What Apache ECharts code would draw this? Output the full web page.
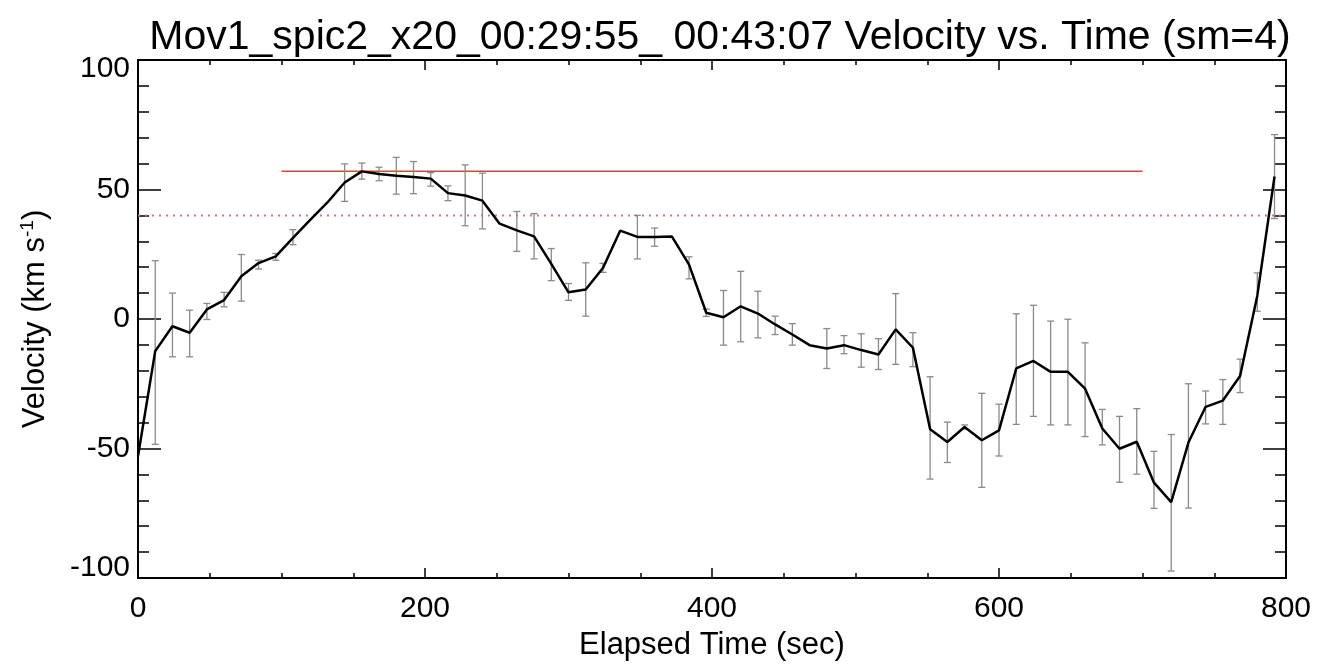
<!DOCTYPE html>
<html>
<head>
<meta charset="utf-8">
<script src="https://cdn.jsdelivr.net/npm/echarts@6/dist/echarts.min.js"></script>
<style>
html,body{margin:0;padding:0;background:#fff;}
#c{width:1318px;height:666px;}
</style>
</head>
<body>
<div id="c"></div>
<script>
// Elapsed time (sec) of each sample
const times = [0,12,24,36,48,60,72,84,96,108,120,132,144,156,168,180,192,204,216,228,240,252,264,276,288,300,312,324,336,348,360,372,384,396,408,420,432,444,456,468,480,492,504,516,528,540,552,564,576,588,600,612,624,636,648,660,672,684,696,708,720,732,744,756,768,780,792];
// Velocity (km/s)
const velocity = [-53,-12.4,-2.8,-5.3,3.7,7.3,16.5,21.6,24.2,31.3,38.3,45,52.7,57,56,55.3,54.8,54.2,48.6,47.7,45.7,36.8,34.2,31.9,21.3,10.3,11.4,19.7,34.1,31.7,31.7,31.9,21,2.4,0.7,4.9,2.1,-2.1,-6,-10.1,-11.4,-10.1,-12,-13.7,-4,-11.1,-42.6,-47.5,-41.7,-46.8,-43,-19.1,-16.2,-20.4,-20.4,-26.9,-42.3,-50.1,-47.4,-63.2,-70.7,-47.7,-33.9,-31.5,-22,9,55];
// Error bar lower / upper ends (null = no bar drawn)
const errLow = [null,-48.4,-14.6,-14.6,-0.2,4.7,6.9,19.3,22.7,28.7,null,null,45.4,54,53.4,48.2,48.4,51.3,45.7,36,34.8,null,26.1,23.2,14.8,7.2,1.1,18,null,23.2,28.1,null,15.5,1,-10.1,-8.8,-7.3,-6,-10.1,null,-19.1,-13.4,-18.6,-19.5,-17.5,-18.4,-61.8,-55.4,-42.5,-65,-52.9,-40.7,-37.6,-40.9,-40.9,-45.4,-48.6,-63,-59.9,-73.1,-97.3,-73,-40.5,-40.7,-28.4,3,38.8];
const errHigh = [null,22.5,10,3.4,6,10.3,24.9,22.7,25.3,34.5,null,null,59.9,60.2,58.6,62.4,60.8,56.5,51.4,59.5,56.3,null,41.5,40.7,27.2,13.7,21.7,21.5,null,40,35.1,null,24,3.8,11,18.4,10.7,1.1,-1.8,null,-3.7,-6.4,-5.7,-7.6,9.8,-5.3,-22.3,-39.8,-40.9,-28.7,-32.9,2,5.3,-0.8,-0.1,-9.2,-34.9,-37.6,-34.6,-51.1,-44.6,-25,-27.8,-23.4,-15.5,17.8,71.2];
// Reference levels
const peakLevel = 57;      const peakRange = [100, 700];
const dottedLevel = 40;    const dottedRange = [0, 800];
// Axis ticks
const xTicks = {min: 0, max: 800, interval: 200};
const yTicks = {min: -100, max: 100, interval: 50};

const lineData = times.map((t, i) => [t, velocity[i]]);
const errData = [];
times.forEach((t, i) => { if (errLow[i] !== null) errData.push([t, errLow[i], errHigh[i]]); });

const FONT = 'Liberation Sans';
const chart = echarts.init(document.getElementById('c'));

const xBase = {
  type: 'value', min: xTicks.min, max: xTicks.max, interval: xTicks.interval,
  axisLine: {show: true, onZero: false, lineStyle: {color: '#000', width: 2}},
  axisTick: {show: true, inside: true, length: 10, lineStyle: {color: '#000', width: 1.5}},
  minorTick: {show: true, splitNumber: 4, length: 5, lineStyle: {color: '#000', width: 1.5}},
  splitLine: {show: false}
};
const yBase = {
  type: 'value', min: yTicks.min, max: yTicks.max, interval: yTicks.interval,
  axisLine: {show: true, onZero: false, lineStyle: {color: '#000', width: 2}},
  axisTick: {show: true, inside: true, length: 23, lineStyle: {color: '#000', width: 1.5}},
  minorTick: {show: true, splitNumber: 5, length: 11, lineStyle: {color: '#000', width: 1.5}},
  splitLine: {show: false}
};

chart.setOption({
  animation: false,
  backgroundColor: '#fff',
  title: {
    text: 'Mov1_spic2_x20_00:29:55_ 00:43:07 Velocity vs. Time (sm=4)',
    left: 715, top: 12, textAlign: 'center',
    textStyle: {fontFamily: FONT, fontSize: 41, fontWeight: 'normal', color: '#000'}
  },
  grid: {left: 138, right: 32, top: 60, bottom: 87, containLabel: false},
  xAxis: [
    Object.assign({}, xBase, {
      position: 'bottom',
      name: 'Elapsed Time (sec)', nameLocation: 'middle', nameGap: 52,
      nameTextStyle: {fontFamily: FONT, fontSize: 31, color: '#000'},
      axisLabel: {show: true, margin: 16, fontFamily: FONT, fontSize: 30, color: '#000'}
    }),
    Object.assign({}, xBase, {position: 'top', axisLabel: {show: false}})
  ],
  yAxis: [
    Object.assign({}, yBase, {
      position: 'left',
      name: '{a|Velocity (km s}{b|-1}{a|)}', nameLocation: 'middle', nameGap: 86, nameRotate: 90,
      nameTextStyle: {
        fontFamily: FONT, fontSize: 31, color: '#000',
        rich: {
          a: {fontFamily: FONT, fontSize: 31, color: '#000'},
          b: {fontFamily: FONT, fontSize: 19, color: '#000', verticalAlign: 'top', padding: [0,0,15,0]}
        }
      },
      axisLabel: {
        show: true, margin: 8, fontFamily: FONT, fontSize: 30, color: '#000',
        formatter: function (v) {
          if (v === yTicks.max) return '{hi|' + v + '}';
          if (v === yTicks.min) return '{lo|' + v + '}';
          return '{n|' + v + '}';
        },
        rich: {
          n: {fontFamily: FONT, fontSize: 30, color: '#000'},
          hi: {fontFamily: FONT, fontSize: 30, color: '#000', padding: [18, 0, 0, 0]},
          lo: {fontFamily: FONT, fontSize: 30, color: '#000', padding: [0, 0, 20, 0]}
        }
      }
    }),
    Object.assign({}, yBase, {position: 'right', axisLabel: {show: false}})
  ],
  series: [
    {
      type: 'line', name: 'dotted', xAxisIndex: 0, yAxisIndex: 0, symbol: 'none', silent: true,
      data: [[dottedRange[0], dottedLevel], [dottedRange[1], dottedLevel]],
      lineStyle: {color: '#de6f82', width: 2, type: [2, 5]}, z: 1
    },
    {
      type: 'line', name: 'peak', xAxisIndex: 0, yAxisIndex: 0, symbol: 'none', silent: true,
      data: [[peakRange[0], peakLevel], [peakRange[1], peakLevel]],
      lineStyle: {color: '#e8402c', width: 1.5}, z: 1
    },
    {
      type: 'custom', name: 'err', xAxisIndex: 0, yAxisIndex: 0, silent: true, z: 2,
      data: errData,
      renderItem: function (params, api) {
        const x = api.value(0);
        const lo = api.coord([x, api.value(1)]);
        const hi = api.coord([x, api.value(2)]);
        const w = 3.5;
        const style = {stroke: '#8a8a8a', lineWidth: 1.3};
        return {
          type: 'group',
          children: [
            {type: 'line', shape: {x1: lo[0], y1: lo[1], x2: hi[0], y2: hi[1]}, style: style},
            {type: 'line', shape: {x1: lo[0] - w, y1: lo[1], x2: lo[0] + w, y2: lo[1]}, style: style},
            {type: 'line', shape: {x1: hi[0] - w, y1: hi[1], x2: hi[0] + w, y2: hi[1]}, style: style}
          ]
        };
      }
    },
    {
      type: 'line', name: 'velocity', xAxisIndex: 0, yAxisIndex: 0, symbol: 'none', silent: true,
      data: lineData, clip: true,
      lineStyle: {color: '#000', width: 2.5}, z: 3
    }
  ]
});
</script>
</body>
</html>
